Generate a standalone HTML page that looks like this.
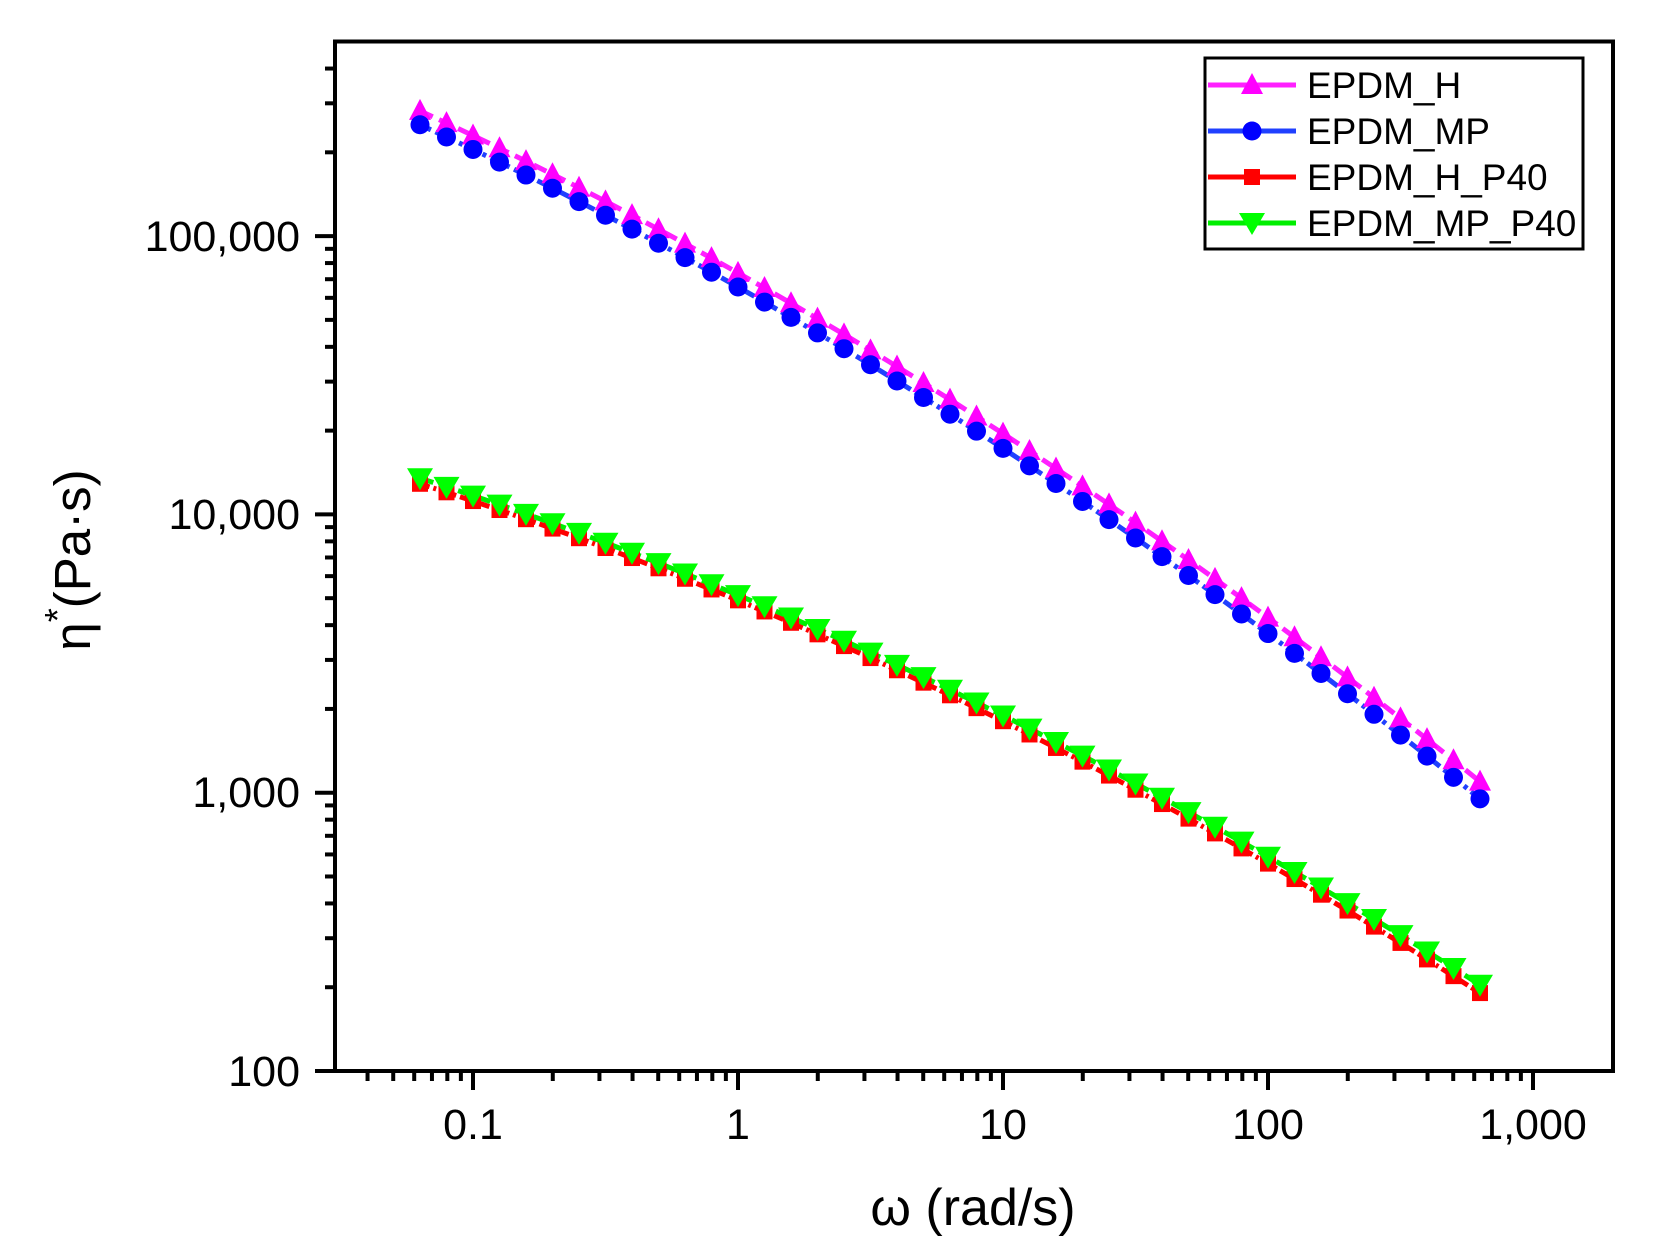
<!DOCTYPE html>
<html><head><meta charset="utf-8"><style>
html,body{margin:0;padding:0;background:#fff;}
svg{display:block;}
text{font-family:"Liberation Sans",Arial,sans-serif;fill:#000;}
</style></head><body>
<svg id="s" width="1656" height="1255" viewBox="0 0 1656 1255" xmlns="http://www.w3.org/2000/svg">
<rect width="1656" height="1255" fill="#fff"/>
<g id="data"></g>
<rect x="335" y="41.5" width="1278" height="1029.5" fill="none" stroke="#000" stroke-width="4"/>
<g id="ticks" stroke="#000" stroke-width="4"></g>
<g font-size="43" text-anchor="end">
<text x="300" y="251">100,000</text>
<text x="300" y="529">10,000</text>
<text x="300" y="807">1,000</text>
<text x="300" y="1086">100</text>
</g>
<g font-size="43" text-anchor="middle">
<text x="473" y="1139">0.1</text>
<text x="738" y="1139">1</text>
<text x="1003" y="1139">10</text>
<text x="1268" y="1139">100</text>
<text x="1533" y="1139">1,000</text>
</g>
<text x="973" y="1225" font-size="52" text-anchor="middle">ω (rad/s)</text>
<text transform="translate(90,560) rotate(-90)" font-size="51" text-anchor="middle">η<tspan dy="-20" font-size="36">*</tspan><tspan dy="20">(Pa·s)</tspan></text>
<rect x="1205" y="58" width="378" height="191" fill="#fff" stroke="#000" stroke-width="3"/>
<g id="leg"></g>
<g font-size="37">
<text x="1307" y="98">EPDM_H</text>
<text x="1307" y="144">EPDM_MP</text>
<text x="1307" y="190">EPDM_H_P40</text>
<text x="1307" y="236">EPDM_MP_P40</text>
</g>
</svg>
<script>
var NS="http://www.w3.org/2000/svg";
function px(lx){return 738+265*lx;}
function py(ly){return 1071-278.3*(ly-2);}
function el(p,t,a){var e=document.createElementNS(NS,t);for(var k in a)e.setAttribute(k,a[k]);p.appendChild(e);return e;}
var tk=document.getElementById('ticks');
for(var d=-2;d<=3;d++){for(var m=1;m<10;m++){var lx=d+Math.log10(m);var x=px(lx);if(x<336||x>1612)continue;
 el(tk,'line',{x1:x,y1:1071,x2:x,y2:m==1?1090:1081});}}
for(var d=2;d<=5;d++){for(var m=1;m<10;m++){var ly=d+Math.log10(m);var y=py(ly);if(y<43)continue;
 el(tk,'line',{x1:335,y1:y,x2:m==1?315:325,y2:y});}}
function marker(g,type,x,y,col){
 if(type=='tri')el(g,'polygon',{points:(x-11)+','+(y+9)+' '+(x+11)+','+(y+9)+' '+x+','+(y-12),fill:col});
 else if(type=='circ')el(g,'circle',{cx:x,cy:y,r:9.5,fill:col});
 else if(type=='sq')el(g,'rect',{x:x-8,y:y-8,width:16,height:16,fill:col});
 else el(g,'polygon',{points:(x-13)+','+(y-10)+' '+(x+13)+','+(y-10)+' '+x+','+(y+12),fill:col});
}
var series=[
 {a:5.45,b:-1.74,c:-0.67,col:'#ff00ff',lc:'#ff20ff',m:'tri',dash:'14,7'},
 {a:5.40,b:-1.738,c:-0.684,col:'#0000ff',lc:'#2040ff',m:'circ',dash:'12,5,4,5'},
 {a:4.11,b:-1.21,c:-0.62,col:'#ff0000',lc:'#ff0000',m:'sq',dash:'10,4,3,4'},
 {a:4.13,b:-1.22,c:-0.60,col:'#00ff00',lc:'#00ee00',m:'dn',dash:'14,6'}];
var g=document.getElementById('data');
series.forEach(function(s){
 var pts=[];
 for(var k=0;k<=40;k++){var lx=-1.2+k*0.1;var t=k/40;var ly=s.a+s.b*t+s.c*t*t;pts.push([px(lx),py(ly)]);}
 el(g,'polyline',{points:pts.map(function(p){return p.join(',')}).join(' '),fill:'none',stroke:s.lc,'stroke-width':5,'stroke-dasharray':s.dash});
 s.pts=pts;
});
series.forEach(function(s){s.pts.forEach(function(p){marker(g,s.m,p[0],p[1],s.col);});});
var lg=document.getElementById('leg');
series.forEach(function(s,i){var y=85+i*46;
 el(lg,'line',{x1:1208,y1:y,x2:1296,y2:y,stroke:s.lc,'stroke-width':5});
 marker(lg,s.m,1252,y,s.col);});
</script>
</body></html>
